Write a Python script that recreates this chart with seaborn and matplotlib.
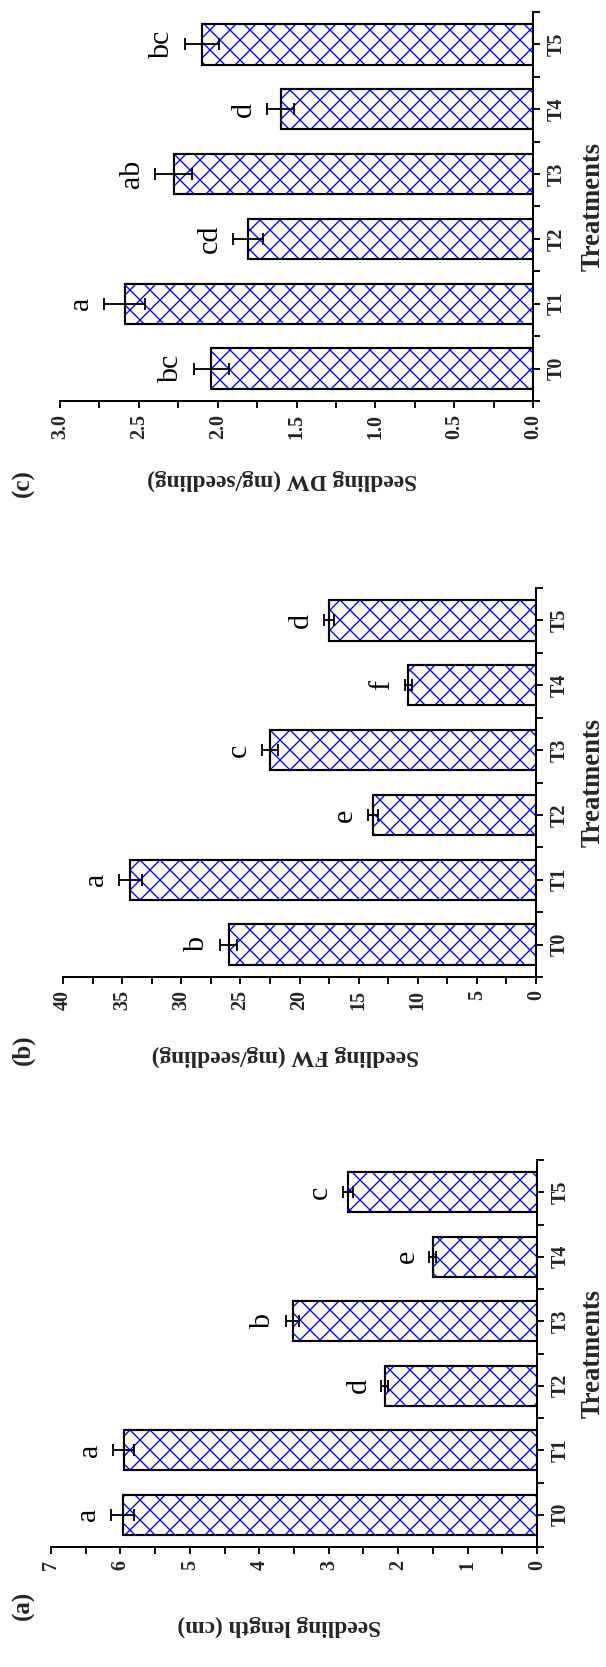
import matplotlib
matplotlib.use("Agg")
import matplotlib.pyplot as plt
import seaborn as sns
import numpy as np
import pandas as pd
from matplotlib.ticker import MultipleLocator, FixedLocator, FormatStrFormatter

# ---------------- data ----------------
treatments = ["T0", "T1", "T2", "T3", "T4", "T5"]

length_mean = [5.97, 5.95, 2.19, 3.52, 1.50, 2.72]
length_err = [0.16, 0.15, 0.05, 0.09, 0.05, 0.07]
length_letters = ["a", "a", "d", "b", "e", "c"]

fw_mean = [26.0, 34.3, 13.8, 22.5, 10.8, 17.5]
fw_err = [0.7, 1.0, 0.4, 0.65, 0.3, 0.45]
fw_letters = ["b", "a", "e", "c", "f", "d"]

dw_mean = [2.04, 2.59, 1.81, 2.28, 1.60, 2.10]
dw_err = [0.11, 0.13, 0.095, 0.12, 0.085, 0.11]
dw_letters = ["bc", "a", "cd", "ab", "d", "bc"]

panel_labels = ["(a)", "(b)", "(c)"]
value_labels = ["Seedling length (cm)", "Seedling FW (mg/seedling)", "Seedling DW (mg/seedling)"]
category_label = "Treatments"

# ---------------- style ----------------
sns.set_theme(style="ticks")
plt.rcParams["font.family"] = ["Liberation Serif", "DejaVu Serif"]
plt.rcParams["hatch.linewidth"] = 0.8
plt.rcParams["axes.linewidth"] = 1.2

W, H, DPI = 606, 1667, 120
fig = plt.figure(figsize=(W / DPI, H / DPI), dpi=DPI)

# axes rectangles in pixels: (left, top, right, bottom)
rects_px = {
    "a": (51, 1160, 537, 1547),
    "b": (63, 588, 536, 977),
    "c": (60, 12, 533, 401),
}
panel_text_y = {"a": 1605, "b": 1050, "c": 483}

panels = [
    ("a", length_mean, length_err, length_letters, value_labels[0], panel_labels[0], 7, 1, "%d"),
    ("b", fw_mean, fw_err, fw_letters, value_labels[1], panel_labels[1], 40, 5, "%d"),
    ("c", dw_mean, dw_err, dw_letters, value_labels[2], panel_labels[2], 3.0, 0.5, "%.1f"),
]

for key, means, errs, letters, vlabel, plabel, vmax, step, fmt in panels:
    l, t, r, b = rects_px[key]
    ax = fig.add_axes([l / W, 1 - b / H, (r - l) / W, (b - t) / H])
    df = pd.DataFrame({"Treatment": treatments, "value": means})

    # hatched fill
    sns.barplot(data=df, x="value", y="Treatment", order=treatments, orient="h",
                color="white", saturation=1, edgecolor="#0000FF", linewidth=0,
                hatch="xx", width=0.62, errorbar=None, ax=ax)
    # black outlines
    sns.barplot(data=df, x="value", y="Treatment", order=treatments, orient="h",
                color="black", fill=False, linewidth=1.3, width=0.62,
                errorbar=None, ax=ax)

    pos = np.arange(len(treatments))
    ax.errorbar(means, pos, xerr=errs, fmt="none", ecolor="black",
                elinewidth=1.1, capsize=3.5, capthick=1.1, zorder=5)

    for m, e, p, letter in zip(means, errs, pos, letters):
        ax.annotate(letter, xy=(m + e, p), xytext=(-6, 0), textcoords="offset points",
                    rotation=90, ha="right", va="center", fontsize=18, color="black")

    ax.set_xlim(vmax, 0)
    ax.set_ylim(-0.5, len(treatments) - 0.5)

    for s in ["top", "left"]:
        ax.spines[s].set_visible(False)
    for s in ["right", "bottom"]:
        ax.spines[s].set_linewidth(1.2)
        ax.spines[s].set_color("black")

    ax.yaxis.tick_right()
    ax.yaxis.set_label_position("right")
    ax.xaxis.set_major_locator(MultipleLocator(step))
    ax.xaxis.set_minor_locator(MultipleLocator(step / 2))
    ax.xaxis.set_major_formatter(FormatStrFormatter(fmt))
    ax.yaxis.set_minor_locator(FixedLocator(np.arange(-0.5, len(treatments), 1.0)))

    ax.tick_params(axis="x", which="both", direction="out", length=4, width=1.1,
                   color="black", labelrotation=90, labelsize=12, pad=4)
    ax.tick_params(axis="y", which="both", direction="out", length=4, width=1.1,
                   color="black", labelrotation=90, labelsize=12, pad=4,
                   right=True, left=False)
    for lab in ax.get_xticklabels() + ax.get_yticklabels():
        lab.set_fontweight("bold")
    for lab in ax.get_yticklabels():
        lab.set_va("center")

    ax.set_xlabel(vlabel, fontsize=14, fontweight="bold", rotation=180, va="center")
    ax.xaxis.set_label_coords(0.47, -(480 - 401) / 389)
    ax.set_ylabel(category_label, fontsize=16, fontweight="bold", rotation=90,
                  va="center", ha="center")
    ax.yaxis.set_label_coords(1 + (593 - r) / (r - l), 0.5)

    fig.text(23 / W, 1 - panel_text_y[key] / H, plabel, rotation=90, fontsize=15,
             fontweight="bold", ha="center", va="center")

fig.savefig("out.png", dpi=DPI)
